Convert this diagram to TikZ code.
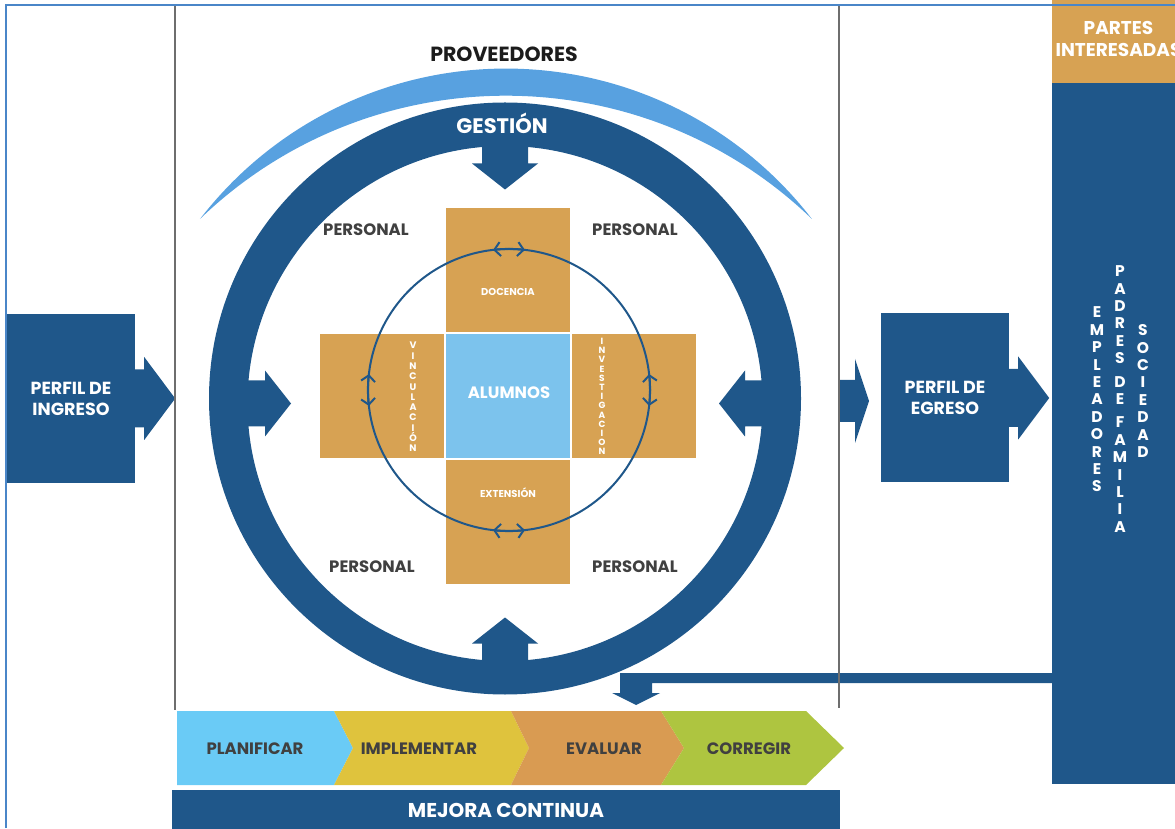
\documentclass[tikz,border=0pt]{standalone}
\usepackage{fontspec}
\setmainfont{Poppins}
\usetikzlibrary{arrows.meta,positioning}

\definecolor{dblue}{HTML}{1F578A}
\definecolor{lblue}{HTML}{58A1E0}
\definecolor{corange}{HTML}{D7A253}
\definecolor{alumblue}{HTML}{7CC3ED}
\definecolor{frameblue}{HTML}{4A86C8}
\definecolor{lgray}{HTML}{6E6E6E}
\definecolor{dgray}{HTML}{404040}
\definecolor{nearblack}{HTML}{1C1C1C}
\definecolor{pblue}{HTML}{6ACBF6}
\definecolor{pyellow}{HTML}{DFC33D}
\definecolor{porange}{HTML}{D99B52}
\definecolor{pgreen}{HTML}{AEC540}

\tikzset{
  lbl/.style={inner sep=0pt, anchor=base, font=\bfseries\fontsize{#1}{#1}\selectfont},
  vstack/.style={inner sep=0pt, align=center, text=white},
  petal/.style={fill=corange, draw=white, line width=1pt, minimum size=125pt, inner sep=0pt},
  bluebox/.style={fill=dblue, minimum width=128pt, minimum height=169pt, inner sep=0pt,
    text=white, align=center, font=\bfseries\fontsize{17.5}{21}\selectfont},
  barb/.tip={Straight Barb[length=6pt,width=14pt]}
}

\begin{document}
\begin{tikzpicture}[x=1pt,y=1pt]
\useasboundingbox (0,0) rectangle (1175,828);

% proveedores
\fill[lblue] (200,609) arc[start angle=142.36,end angle=37.64,radius=386.4]
  arc[start angle=46.1,end angle=133.9,radius=441.3] -- cycle;
\node[lbl=20.5, text=nearblack] (prov) at (504,766) {PROVEEDORES};

% gestion ring and its arrows
\coordinate (ring) at (505,424.5);
\fill[dblue, even odd rule] (505,429.5) circle[radius=296] (ring) circle[radius=257.5];
\node[lbl=21, text=white] (gest) at (502,694) {GESTIÓN};
\foreach \a in {0,90,180,270}
  \fill[dblue, shift={(ring)}, rotate=\a] (-265,23) -- (-240,23) -- (-240,33) -- (-214,0)
    -- (-240,-33) -- (-240,-23) -- (-265,-23) -- cycle;

% cross
\node[petal] (doc) at (508,558) {};
\node[petal] (ext) at (508,306) {};
\node[petal] (vinc) at (382,432) {};
\node[petal] (inv) at (634,432) {};
\node[petal, fill=alumblue] (alum) at (508,432) {};

\draw[dblue, line width=2pt] (509,438) circle[radius=141];
\foreach \a in {0,90,180,270}
  \draw[dblue, line width=2pt, barb-barb] (509,438) ++(\a-6.5:141)
    arc[start angle=\a-6.5, end angle=\a+6.5, radius=141];

\node[lbl=10, text=white] (doct) at (508,532) {DOCENCIA};
\node[lbl=10, text=white] (extt) at (508,330) {EXTENSIÓN};
\node[lbl=16.5, text=white] (alumt) at (509,429) {ALUMNOS};
\node[vstack, font=\bfseries\fontsize{9.5}{10.3}\selectfont] (vinct) at (413,431)
  {V\\I\\N\\C\\U\\L\\A\\C\\I\\Ó\\N};
\node[vstack, font=\bfseries\fontsize{9}{9.2}\selectfont] (invt) at (602,431.5)
  {I\\N\\V\\E\\S\\T\\I\\G\\A\\C\\I\\O\\N};

\node[lbl=16.5, text=dgray] (pers1) at (366,592) {PERSONAL};
\node[lbl=16.5, text=dgray] (pers2) at (635,592) {PERSONAL};
\node[lbl=16.5, text=dgray] (pers3) at (372,256) {PERSONAL};
\node[lbl=16.5, text=dgray] (pers4) at (635,256) {PERSONAL};

% perfiles
\node[bluebox] (ingreso) at (71,429.5) {PERFIL DE\\INGRESO};
\node[bluebox] (egreso) at (945,430) {PERFIL DE\\EGRESO};
\foreach \b in {ingreso,egreso}
  \fill[dblue, shift={(\b.east)}] (0,29) -- (9,29) -- (9,41.5) -- (40,0) -- (9,-41.5)
    -- (9,-29) -- (0,-29) -- cycle;
\fill[dblue] (840,448) -- (855,448) -- (855,469) -- (869,427) -- (855,385) -- (855,406)
  -- (840,406) -- cycle;

% partes interesadas
\node[fill=dblue, minimum width=133pt, minimum height=701pt] (col) at (1118.5,394.5) {};
\node[fill=corange, minimum width=133pt, minimum height=88pt, inner sep=0pt, align=center,
  text=white, font=\bfseries\fontsize{18.5}{22}\selectfont] (partes) at (1118.5,789)
  {PARTES\\INTERESADAS};
\node[vstack, font=\bfseries\fontsize{15.5}{17.4}\selectfont] (empl) at (1097,428.5)
  {E\\M\\P\\L\\E\\A\\D\\O\\R\\E\\S};
\node[vstack, font=\bfseries\fontsize{15.5}{17.4}\selectfont] (padres) at (1120,429)
  {P\\A\\D\\R\\E\\S\\[6pt]D\\E\\[6pt]F\\A\\M\\I\\L\\I\\A};
\node[vstack, font=\bfseries\fontsize{15.5}{17.4}\selectfont] (soc) at (1143,437)
  {S\\O\\C\\I\\E\\D\\A\\D};
\fill[dblue] (1052,155) -- (620,155) -- (620,135) -- (612,135) -- (636,123) -- (660,135)
  -- (652,135) -- (652,145) -- (1052,145) -- cycle;

% mejora continua
\fill[pblue] (177,117) -- (334,117) -- (353,80) -- (334,43) -- (177,43) -- cycle;
\fill[pyellow] (334,117) -- (511,117) -- (529,80) -- (511,43) -- (334,43) -- (353,80) -- cycle;
\fill[porange] (511,117) -- (661,117) -- (684,80) -- (661,43) -- (511,43) -- (529,80) -- cycle;
\fill[pgreen] (661,117) -- (806,117) -- (844,80) -- (806,43) -- (661,43) -- (684,80) -- cycle;
\node[lbl=16.5, text=dgray] (plan) at (255,74) {PLANIFICAR};
\node[lbl=16.5, text=dgray] (impl) at (419,74) {IMPLEMENTAR};
\node[lbl=16.5, text=dgray] (eval) at (604,74) {EVALUAR};
\node[lbl=16.5, text=dgray] (corr) at (749,74) {CORREGIR};
\node[fill=dblue, minimum width=668pt, minimum height=41pt, inner sep=0pt, text=white,
  font=\bfseries\fontsize{20}{20}\selectfont] (mejora) at (506,17.5) {MEJORA CONTINUA};

% frame
\draw[lgray, line width=2pt] (175,823) -- (175,118);
\draw[lgray, line width=2pt] (839,823) -- (839,120);
\draw[frameblue, line width=1.5pt] (6,0) -- (6,823) -- (1175,823);
\end{tikzpicture}
\end{document}
